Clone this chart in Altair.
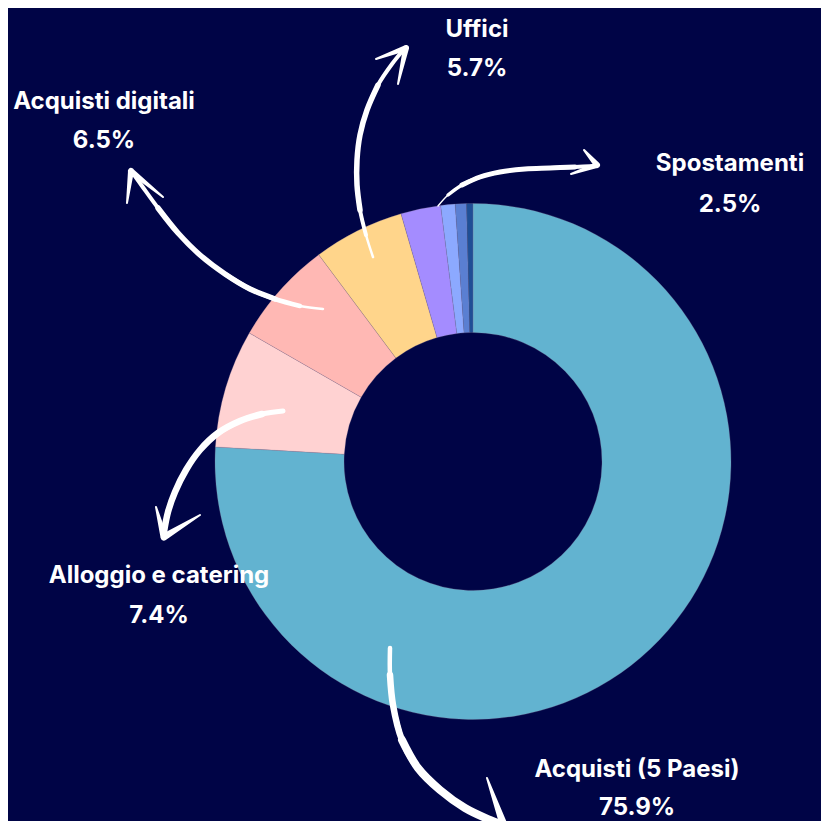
import altair as alt
import pandas as pd

# ---- chart values ----
categories = ["Acquisti (5 Paesi)", "Alloggio e catering", "Acquisti digitali", "Uffici",
              "Spostamenti", "Altro 1", "Altro 2", "Altro 3"]
shares = [75.9, 7.4, 6.5, 5.7, 2.5, 0.9, 0.7, 0.4]
colors = ["#62b3d0", "#ffd2d2", "#ffb8b4", "#ffd58b", "#a48cff", "#8ca9ff", "#5a7fd2", "#1f4f96"]

# labelled categories (text annotations)
label_names = ["Uffici", "Acquisti digitali", "Spostamenti", "Alloggio e catering", "Acquisti (5 Paesi)"]
label_values = ["5.7%", "6.5%", "2.5%", "7.4%", "75.9%"]

# ---- annotation layout (page pixel positions) ----
label_x = [477, 104, 730, 159, 637]
label_y_name = [37, 109, 171, 583, 777]
label_y_value = [76, 148, 212, 623, 815]

# hand-drawn arrows: path points and (start, end, stroke width) pieces
arrow_paths = {
    "a1": [(390, 648), (390, 675), (393, 705), (402, 740), (418, 768),
           (440, 790), (465, 808), (490, 820), (503, 825)],
    "a2": [(283, 411), (262, 414), (240, 421), (218, 433), (200, 450),
           (186, 470), (175, 492), (168, 512), (164, 532)],
    "a3": [(323, 309), (300, 306), (275, 299), (250, 289), (225, 274),
           (200, 255), (178, 233), (158, 208), (142, 186), (132, 172)],
    "a4": [(373, 257), (366, 235), (360, 210), (357, 185), (357, 160),
           (360, 135), (367, 110), (378, 85), (392, 64), (405, 48)],
    "a5": [(438, 206), (448, 195), (462, 185), (480, 177), (500, 172),
           (525, 169), (550, 168), (575, 167), (596, 166)],
}
arrow_pieces = {
    "a1": [(0, 3, 4.5), (1, 5, 6.5), (3, 8, 8)],
    "a2": [(0, 3, 5), (1, 8, 6.5)],
    "a3": [(0, 2, 2.5), (1, 4, 4.5), (2, 7, 5.5), (6, 9, 4)],
    "a4": [(0, 2, 2.5), (1, 4, 4), (2, 7, 5.5), (6, 9, 4)],
    "a5": [(0, 2, 1.5), (1, 4, 3.5), (2, 7, 5), (6, 8, 4)],
}
heads = {
    "h1": [(487, 778, 2), (504, 826, 8), (462, 826, 2)],
    "h2": [(156, 507, 2), (164, 537, 7), (200, 515, 2)],
    "h3": [(127, 203, 2), (131, 171, 6), (163, 197, 2)],
    "h4": [(376, 59, 2), (406, 48, 6), (398, 84, 2)],
    "h5": [(584, 150, 2), (597, 165, 6), (571, 174, 2)],
}

BG = "#000446"
W = 813
CX, CY = 473 - 8, 461.5 - 8
R_OUT, R_IN = 258, 129

pie_df = pd.DataFrame({"cat": categories, "value": shares, "idx": list(range(len(categories)))})

line_rows = []
for name, pts in arrow_paths.items():
    for k, (s, e, w) in enumerate(arrow_pieces[name]):
        for i in range(s, e + 1):
            x, y = pts[i]
            line_rows.append({"id": f"{name}_{k}", "i": i, "x": x, "y": y, "w": w})
line_df = pd.DataFrame(line_rows)

head_rows = []
for name, pts in heads.items():
    for i, (x, y, w) in enumerate(pts):
        head_rows.append({"id": name, "i": i, "x": x, "y": y, "w": w})
head_df = pd.DataFrame(head_rows)

text_rows = []
for n, v, x, y1, y2 in zip(label_names, label_values, label_x, label_y_name, label_y_value):
    text_rows.append({"t": n, "x": x, "y": y1})
    text_rows.append({"t": v, "x": x, "y": y2})
text_df = pd.DataFrame(text_rows)

xs = alt.Scale(domain=[8, 8 + W], range=[0, W])
ys = alt.Scale(domain=[8, 8 + W], range=[0, W])

donut = alt.Chart(pie_df).mark_arc(
    radius=R_OUT, radius2=R_IN, stroke="#8a7a98", strokeWidth=0.5, strokeOpacity=0.5
).encode(
    theta=alt.Theta("value:Q", stack=True),
    order=alt.Order("idx:Q"),
    color=alt.Color("cat:N", scale=alt.Scale(domain=categories, range=colors), legend=None),
    x=alt.value(CX),
    y=alt.value(CY),
)

lines = alt.Chart(line_df).mark_line(
    color="white", interpolate="catmull-rom", strokeCap="round", strokeJoin="round"
).encode(
    x=alt.X("x:Q", scale=xs, axis=None),
    y=alt.Y("y:Q", scale=ys, axis=None),
    size=alt.Size("w:Q", scale=None, legend=None),
    detail="id:N",
    order=alt.Order("i:Q"),
)

head_marks = alt.Chart(head_df).mark_trail(color="white").encode(
    x=alt.X("x:Q", scale=xs, axis=None),
    y=alt.Y("y:Q", scale=ys, axis=None),
    size=alt.Size("w:Q", scale=None, legend=None),
    detail="id:N",
    order=alt.Order("i:Q"),
)

texts = alt.Chart(text_df).mark_text(
    color="white", font="Inter", fontSize=24, fontWeight="bold", align="center", baseline="alphabetic"
).encode(
    x=alt.X("x:Q", scale=xs, axis=None),
    y=alt.Y("y:Q", scale=ys, axis=None),
    text="t:N",
)

chart = alt.layer(donut, lines, head_marks, texts).properties(
    width=W, height=W, background=BG, padding=0,
    autosize=alt.AutoSizeParams(type="none"),
).configure_view(stroke=None)

chart.save("out.html", embed_options={"renderer": "svg", "actions": False})
